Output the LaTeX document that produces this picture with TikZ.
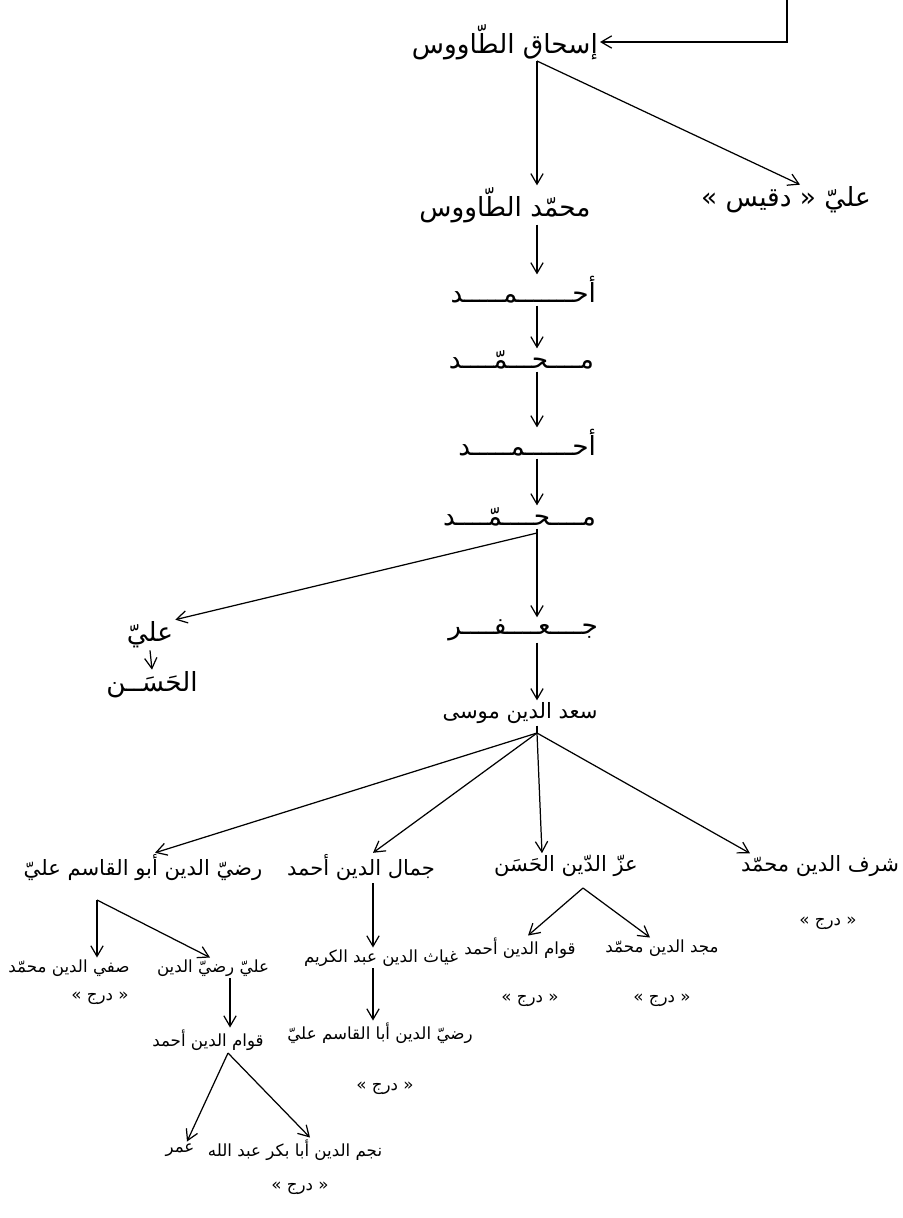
\documentclass[tikz,border=0pt]{standalone}
\usepackage{fontspec}
\usepackage{tikz}
\usetikzlibrary{arrows.meta, positioning, calc}
\newfontfamily\arabicfont[Script=Arabic]{DejaVu Sans}
\TeXXeTstate=1
\newcommand{\artext}[1]{\beginR #1\endR}
\tikzstyle{big} = [font=\arabicfont\fontsize{15}{18}\selectfont, inner sep=1pt]
\tikzstyle{mid} = [font=\arabicfont\fontsize{12}{14}\selectfont, inner sep=1pt]
\tikzstyle{small} = [font=\arabicfont\fontsize{9.5}{12}\selectfont, inner sep=1pt]
\tikzstyle{arrow} = [line width=0.7pt, -{Straight Barb[length=6pt,width=7pt]}]
\tikzstyle{line} = [line width=0.7pt]

\begin{document}
\begin{tikzpicture}[x=0.02cm, y=-0.02cm]
    \useasboundingbox (0,0) rectangle (903,1218);

    % main line
    \node (isaq) [big, anchor=east] at (600,42) {\artext{إسحاق الطّاووس}};
    \node (mtawus) [big] at (505,205) {\artext{محمّد الطّاووس}};
    \node (daqis) [big] at (786,200) {» \artext{دقيس} « \artext{عليّ}};
    \node (ahmad1) [big, anchor=east] at (598,290) {\artext{أحـــــــمـــــد}};
    \node (muh1) [big, anchor=east] at (596,360) {\artext{مــــحـــمّــــد}};
    \node (ahmad2) [big, anchor=east] at (598,443) {\artext{أحــــــمـــــد}};
    \node (muh2) [big, anchor=east] at (598,517) {\artext{مــــحــــمّــــد}};
    \node (jafar) [big, anchor=east] at (600,630) {\artext{جــــعــــفــــر}};
    \node (ali) [big] at (150,635) {\artext{عليّ}};
    \node (hasan) [big] at (152,685) {\artext{الحَسَــن}};
    \node (musa) [mid] at (520,713) {\artext{سعد الدين موسى}};

    % sons of musa
    \node (radi) [mid] at (143,868) {\artext{رضيّ الدين أبو القاسم عليّ}};
    \node (jamal) [mid] at (361,868) {\artext{جمال الدين أحمد}};
    \node (izz) [mid] at (566,866) {\artext{عزّ الدّين الحَسَن}};
    \node (sharaf) [mid] at (820,866) {\artext{شرف الدين محمّد}};
    \node (darjsharaf) [small] at (828,923) {» \artext{درج} «};

    \node (safi) [small] at (69,968) {\artext{صفي الدين محمّد}};
    \node (darjsafi) [small] at (100,998) {» \artext{درج} «};
    \node (aliradi) [small] at (213,968) {\artext{عليّ رضيّ الدين}};
    \node (qawam1) [small] at (208,1040) {\artext{قوام الدين أحمد}};
    \node (umar) [small] at (180,1150) {\artext{عمر}};
    \node (najm) [small] at (295,1150) {\artext{نجم الدين أبا بكر عبد الله}};
    \node (darjnajm) [small] at (300,1188) {» \artext{درج} «};

    \node (ghiyath) [small] at (381,958) {\artext{غياث الدين عبد الكريم}};
    \node (radi2) [small] at (380,1033) {\artext{رضيّ الدين أبا القاسم عليّ}};
    \node (darjradi) [small] at (385,1088) {» \artext{درج} «};

    \node (qawam2) [small] at (520,948) {\artext{قوام الدين أحمد}};
    \node (darjqawam) [small] at (530,1000) {» \artext{درج} «};
    \node (majd) [small] at (662,948) {\artext{مجد الدين محمّد}};
    \node (darjmajd) [small] at (662,1000) {» \artext{درج} «};

    % fork points
    \coordinate (top) at (787,0);
    \coordinate (trunk) at (537,61);
    \coordinate (muhfork) at (537,533);
    \coordinate (musafork) at (537,733);
    \coordinate (radifork) at (97,900);
    \coordinate (qawamfork) at (228,1053);
    \coordinate (izzfork) at (583,888);

    \draw [arrow] (top) |- (isaq.east);
    \draw [arrow] (trunk) -- (trunk |- mtawus.north);
    \draw [arrow] (trunk) -- ($(daqis.north)+(14,0)$);
    \draw [arrow] (trunk |- mtawus.south) -- (trunk |- ahmad1.north);
    \draw [arrow] (trunk |- ahmad1.south) -- (trunk |- muh1.north);
    \draw [arrow] (trunk |- muh1.south) -- (trunk |- ahmad2.north);
    \draw [arrow] (trunk |- ahmad2.south) -- (trunk |- muh2.north);
    \draw [line] (trunk |- muh2.south) -- (muhfork);
    \draw [arrow] (muhfork) -- (muhfork |- jafar.north);
    \draw [arrow] (muhfork) -- (ali.north east);
    \draw [arrow] (ali.south) -- (hasan.north);
    \draw [arrow] (muhfork |- jafar.south) -- (muhfork |- musa.north);

    \draw [line] (musafork |- musa.south) -- (musafork);
    \draw [arrow] (musafork) -- ($(radi.north)+(12,0)$);
    \draw [arrow] (musafork) -- ($(jamal.north)+(12,0)$);
    \draw [arrow] (musafork) -- ($(izz.north)+(-24,0)$);
    \draw [arrow] (musafork) -- ($(sharaf.north)+(-70,0)$);

    \draw [arrow] (radifork) -- (radifork |- safi.north);
    \draw [arrow] (radifork) -- ($(aliradi.north)+(-3,0)$);
    \draw [arrow] ($(aliradi.south)+(17,0)$) -- ($(qawam1.north)+(22,0)$);
    \draw [arrow] (qawamfork) -- ($(umar.north)+(7,0)$);
    \draw [arrow] (qawamfork) -- ($(najm.north)+(15,0)$);

    \draw [arrow] ($(jamal.south)+(12,0)$) -- ($(ghiyath.north)+(-8,0)$);
    \draw [arrow] ($(ghiyath.south)+(-8,0)$) -- ($(radi2.north)+(-7,0)$);

    \draw [arrow] (izzfork) -- ($(qawam2.north)+(8,0)$);
    \draw [arrow] (izzfork) -- ($(majd.north)+(-12,0)$);
\end{tikzpicture}
\end{document}
